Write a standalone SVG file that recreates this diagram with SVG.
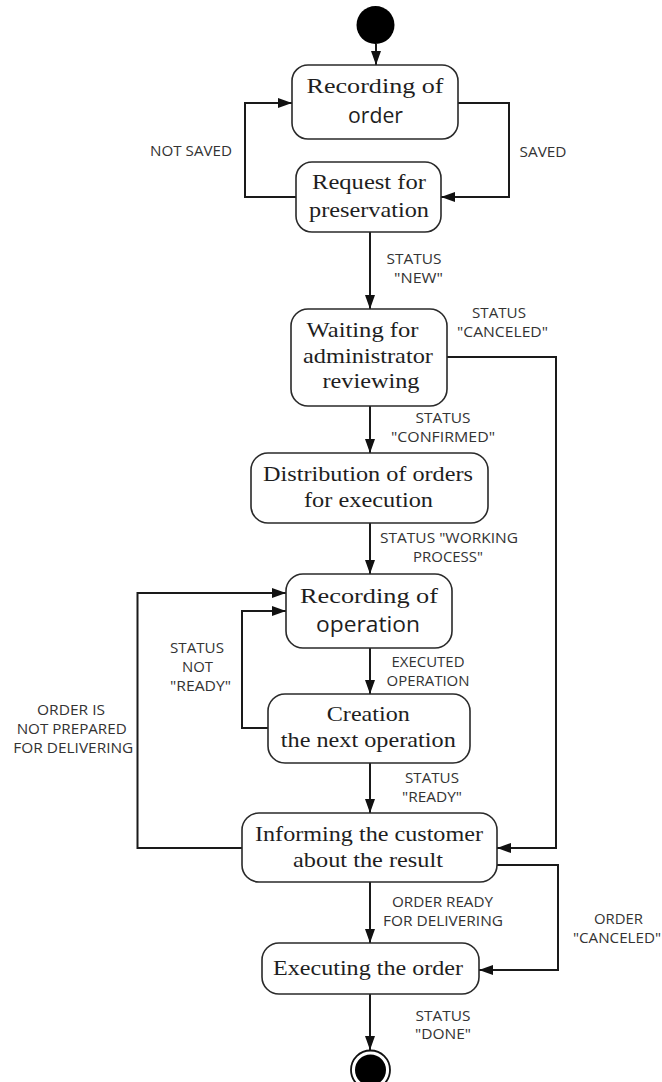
<svg xmlns="http://www.w3.org/2000/svg" width="662" height="1082" viewBox="0 0 662 1082">
<style>
.box{fill:#fff;stroke:#2a2a2a;stroke-width:1.6}
.t{font-family:"Liberation Serif","Times New Roman",serif;font-size:22px;fill:#1e1e1e;text-anchor:middle}
.s{font-family:"Open Sans","Liberation Sans",sans-serif;font-size:22px;fill:#1e1e1e;text-anchor:middle}
.l{font-family:"Open Sans","Liberation Sans",sans-serif;font-size:14.5px;fill:#333;text-anchor:middle}
.c{fill:none;stroke:#1a1a1a;stroke-width:2}
</style>
<defs>
<marker id="arr" markerUnits="userSpaceOnUse" markerWidth="15" markerHeight="11" refX="14" refY="5" orient="auto">
<path d="M0,0 L14,5 L0,10 z" fill="#111"/>
</marker>
</defs>
<rect width="662" height="1082" fill="#fff"/>
<g id="connectors">
<path class="c" d="M376,44 V65" marker-end="url(#arr)"/>
<path class="c" d="M458,103 H509 V197 H441" marker-end="url(#arr)"/>
<path class="c" d="M296,197 H245 V103 H292" marker-end="url(#arr)"/>
<path class="c" d="M370,232 V309" marker-end="url(#arr)"/>
<path class="c" d="M447,357 H556 V848 H497" marker-end="url(#arr)"/>
<path class="c" d="M370,406 V453" marker-end="url(#arr)"/>
<path class="c" d="M370,523 V574" marker-end="url(#arr)"/>
<path class="c" d="M370,648 V694" marker-end="url(#arr)"/>
<path class="c" d="M268,728 H242 V611 H286" marker-end="url(#arr)"/>
<path class="c" d="M370,763 V813" marker-end="url(#arr)"/>
<path class="c" d="M242,848 H137.5 V593 H286" marker-end="url(#arr)"/>
<path class="c" d="M370,882 V943" marker-end="url(#arr)"/>
<path class="c" d="M497,865 H558 V970 H479" marker-end="url(#arr)"/>
<path class="c" d="M370,994 V1050" marker-end="url(#arr)"/>
</g>
<g id="labels">
<text class="l" x="191" y="156" textLength="82" lengthAdjust="spacingAndGlyphs">NOT SAVED</text>
<text class="l" x="543" y="157" textLength="47" lengthAdjust="spacingAndGlyphs">SAVED</text>
<text class="l" x="414" y="264" textLength="55" lengthAdjust="spacingAndGlyphs">STATUS</text>
<text class="l" x="418.5" y="283" textLength="49" lengthAdjust="spacingAndGlyphs">"NEW"</text>
<text class="l" x="499" y="318" textLength="54" lengthAdjust="spacingAndGlyphs">STATUS</text>
<text class="l" x="502.5" y="337" textLength="91" lengthAdjust="spacingAndGlyphs">"CANCELED"</text>
<text class="l" x="443" y="423" textLength="55" lengthAdjust="spacingAndGlyphs">STATUS</text>
<text class="l" x="443" y="442" textLength="104" lengthAdjust="spacingAndGlyphs">"CONFIRMED"</text>
<text class="l" x="449" y="543" textLength="138" lengthAdjust="spacingAndGlyphs">STATUS "WORKING</text>
<text class="l" x="448" y="562" textLength="70" lengthAdjust="spacingAndGlyphs">PROCESS"</text>
<text class="l" x="197" y="653" textLength="54" lengthAdjust="spacingAndGlyphs">STATUS</text>
<text class="l" x="197.5" y="672" textLength="31" lengthAdjust="spacingAndGlyphs">NOT</text>
<text class="l" x="200.5" y="691" textLength="61" lengthAdjust="spacingAndGlyphs">"READY"</text>
<text class="l" x="428" y="667" textLength="73" lengthAdjust="spacingAndGlyphs">EXECUTED</text>
<text class="l" x="428" y="686" textLength="83" lengthAdjust="spacingAndGlyphs">OPERATION</text>
<text class="l" x="71" y="715" textLength="68" lengthAdjust="spacingAndGlyphs">ORDER IS</text>
<text class="l" x="71.7" y="734" textLength="110" lengthAdjust="spacingAndGlyphs">NOT PREPARED</text>
<text class="l" x="73.3" y="753" textLength="120" lengthAdjust="spacingAndGlyphs">FOR DELIVERING</text>
<text class="l" x="432" y="783" textLength="54" lengthAdjust="spacingAndGlyphs">STATUS</text>
<text class="l" x="432" y="802" textLength="60" lengthAdjust="spacingAndGlyphs">"READY"</text>
<text class="l" x="442.5" y="907" textLength="101" lengthAdjust="spacingAndGlyphs">ORDER READY</text>
<text class="l" x="443" y="926" textLength="120" lengthAdjust="spacingAndGlyphs">FOR DELIVERING</text>
<text class="l" x="618.5" y="924" textLength="49" lengthAdjust="spacingAndGlyphs">ORDER</text>
<text class="l" x="617" y="943" textLength="88" lengthAdjust="spacingAndGlyphs">"CANCELED"</text>
<text class="l" x="443" y="1021" textLength="55" lengthAdjust="spacingAndGlyphs">STATUS</text>
<text class="l" x="443" y="1039" textLength="56" lengthAdjust="spacingAndGlyphs">"DONE"</text>
</g>
<g id="start"><circle cx="375.5" cy="25" r="19" fill="#000"/></g>
<g id="recording-order">
<rect class="box" x="292" y="65" width="166" height="74" rx="16"/>
<text class="t" x="375" y="93" textLength="137" lengthAdjust="spacingAndGlyphs">Recording of</text>
<text class="s" x="375.5" y="123" textLength="55" lengthAdjust="spacingAndGlyphs">order</text>
</g>
<g id="request-preservation">
<rect class="box" x="296" y="162" width="145" height="70" rx="16"/>
<text class="t" x="369" y="189" textLength="114" lengthAdjust="spacingAndGlyphs">Request for</text>
<text class="t" x="369" y="217" textLength="120" lengthAdjust="spacingAndGlyphs">preservation</text>
</g>
<g id="waiting-review">
<rect class="box" x="291" y="309" width="156" height="97" rx="17"/>
<text class="t" x="362.5" y="337" textLength="112" lengthAdjust="spacingAndGlyphs">Waiting for</text>
<text class="t" x="368" y="363" textLength="130" lengthAdjust="spacingAndGlyphs">administrator</text>
<text class="t" x="371" y="388" textLength="97" lengthAdjust="spacingAndGlyphs">reviewing</text>
</g>
<g id="distribution">
<rect class="box" x="251" y="453" width="237" height="70" rx="17"/>
<text class="t" x="368" y="481" textLength="210" lengthAdjust="spacingAndGlyphs">Distribution of orders</text>
<text class="t" x="368.5" y="507" textLength="129" lengthAdjust="spacingAndGlyphs">for execution</text>
</g>
<g id="recording-operation">
<rect class="box" x="286" y="574" width="166" height="74" rx="17"/>
<text class="t" x="369" y="603" textLength="138" lengthAdjust="spacingAndGlyphs">Recording of</text>
<text class="s" x="368" y="632" textLength="104" lengthAdjust="spacingAndGlyphs">operation</text>
</g>
<g id="creation">
<rect class="box" x="268" y="694" width="202" height="69" rx="17"/>
<text class="t" x="368.3" y="721" textLength="83" lengthAdjust="spacingAndGlyphs">Creation</text>
<text class="t" x="368.3" y="747" textLength="175" lengthAdjust="spacingAndGlyphs">the next operation</text>
</g>
<g id="informing">
<rect class="box" x="242" y="813" width="255" height="69" rx="17"/>
<text class="t" x="369" y="841" textLength="228" lengthAdjust="spacingAndGlyphs">Informing the customer</text>
<text class="t" x="368" y="867" textLength="150" lengthAdjust="spacingAndGlyphs">about the result</text>
</g>
<g id="executing">
<rect class="box" x="262" y="943" width="217" height="51" rx="17"/>
<text class="t" x="368" y="975" textLength="190" lengthAdjust="spacingAndGlyphs">Executing the order</text>
</g>
<g id="end">
<circle cx="370.5" cy="1070" r="19.5" fill="#fff" stroke="#111" stroke-width="1.8"/>
<circle cx="370.5" cy="1070" r="15.5" fill="#000"/>
</g>
</svg>
